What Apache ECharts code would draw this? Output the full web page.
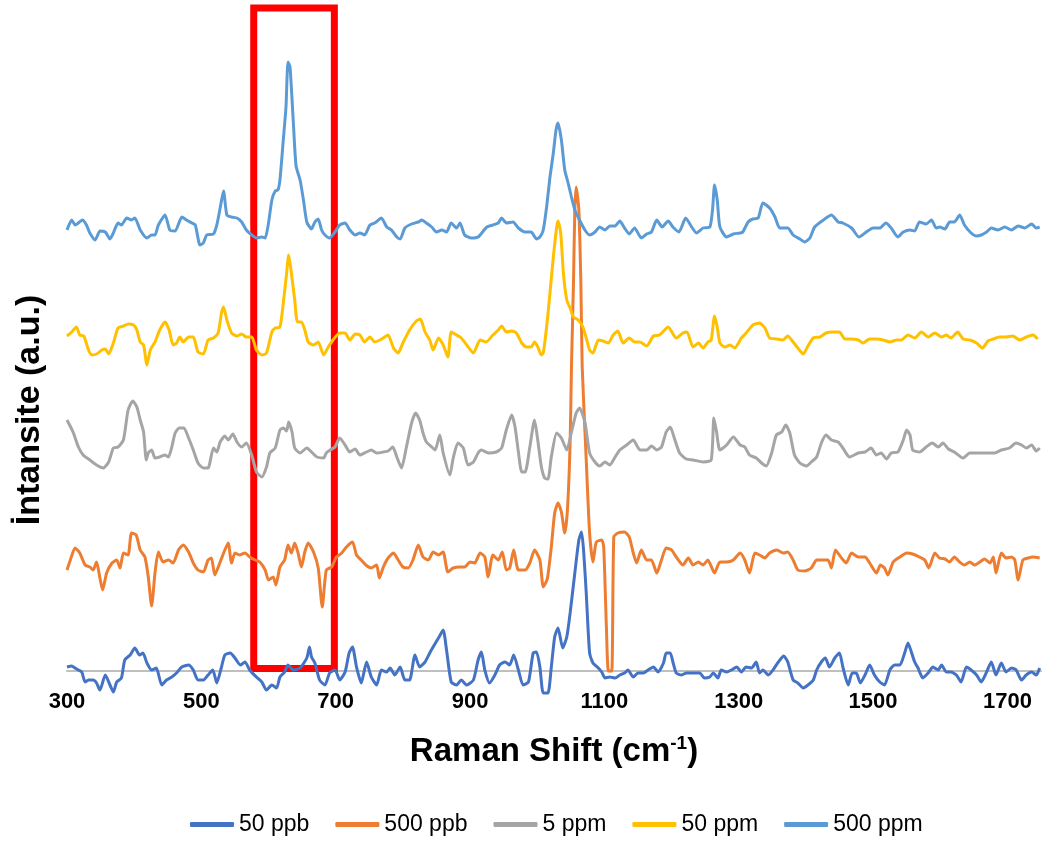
<!DOCTYPE html>
<html>
<head>
<meta charset="utf-8">
<script src="https://cdn.jsdelivr.net/npm/echarts@6/dist/echarts.min.js"></script>
<style>html,body{margin:0;padding:0;background:#fff}#c{width:1044px;height:843px}</style>
</head>
<body>
<div id="c"></div>
<script>
// Raman shift (cm-1) vs intensity (a.u., stacked offsets as in the original)
const seriesNames = ['50 ppb', '500 ppb', '5 ppm', '50 ppm', '500 ppm'];
const seriesColors = ['#4472C4', '#ED7D31', '#A5A5A5', '#FFC000', '#5B9BD5'];
const xTicks = [300, 500, 700, 900, 1100, 1300, 1500, 1700];
const highlightRange = [578, 698];

const ppb50 = [[300,4],[307,5],[312,3],[317,1],[322,-1],[327,-11],[332,-9],[339,-9],[344,-12],[349,-19],[357,-4],[364,-14],[369,-21],[374,-11],[381,-7],[386,11],[394,16],[401,23],[408,16],[413,18],[419,8],[426,1],[433,3],[441,-14],[448,-9],[456,-6],[463,-2],[471,4],[481,6],[488,1],[495,-9],[503,-9],[510,-4],[517,1],[523,-12],[530,4],[535,16],[543,18],[550,13],[558,6],[565,9],[572,1],[582,-6],[590,-11],[597,-19],[605,-14],[612,-17],[617,-6],[624,-1],[629,6],[637,1],[647,3],[657,13],[661,24],[664,14],[669,8],[676,-9],[684,-14],[691,-2],[699,1],[706,-9],[714,-1],[720,18],[725,24],[731,4],[738,-12],[746,9],[753,-6],[761,-14],[768,1],[776,-1],[781,3],[788,-4],[796,4],[803,-9],[810,-9],[818,16],[825,4],[833,9],[840,18],[845,24],[853,33],[860,41],[865,21],[872,-11],[880,-14],[887,-9],[895,-14],[905,-9],[912,11],[917,19],[922,1],[929,-12],[937,-4],[944,6],[952,9],[959,6],[965,16],[972,1],[979,-14],[987,-11],[994,18],[999,19],[1004,4],[1009,-22],[1016,-22],[1021,4],[1026,34],[1031,43],[1038,23],[1044,34],[1049,58],[1056,98],[1062,131],[1066,139],[1069,121],[1073,78],[1078,18],[1083,8],[1091,3],[1096,-1],[1101,-7],[1108,-6],[1116,-7],[1123,-4],[1130,-2],[1135,1],[1143,-6],[1150,-2],[1158,-2],[1165,1],[1173,4],[1180,-1],[1188,8],[1192,18],[1198,18],[1202,9],[1207,-2],[1215,-4],[1222,-2],[1232,-2],[1242,-2],[1249,-7],[1257,-6],[1262,-2],[1269,-7],[1274,1],[1282,-1],[1289,1],[1297,4],[1304,-1],[1311,4],[1319,3],[1326,9],[1331,-2],[1336,1],[1344,-4],[1351,1],[1359,9],[1367,15],[1373,9],[1381,-9],[1388,-12],[1396,-17],[1403,-14],[1411,-9],[1416,1],[1423,9],[1429,13],[1435,4],[1443,13],[1450,18],[1455,4],[1463,-14],[1469,-2],[1475,-2],[1481,-12],[1488,-4],[1495,6],[1502,-4],[1510,-11],[1517,-14],[1525,1],[1532,6],[1540,6],[1547,18],[1552,28],[1557,19],[1562,9],[1567,3],[1574,-7],[1582,-2],[1589,4],[1597,1],[1602,6],[1609,-1],[1616,-1],[1624,-4],[1631,-11],[1639,4],[1646,1],[1654,-4],[1661,-11],[1669,-1],[1676,9],[1683,-4],[1691,8],[1698,-1],[1706,3],[1713,1],[1721,-9],[1728,-4],[1736,-1],[1743,-4],[1748,3]];

const ppb500 = [[300,101],[305,111],[312,123],[319,118],[327,106],[334,104],[339,101],[344,109],[349,93],[353,81],[359,98],[367,108],[374,111],[379,103],[384,118],[391,116],[396,138],[403,136],[409,121],[416,114],[421,94],[426,65],[431,98],[436,119],[443,109],[451,111],[458,108],[466,121],[473,126],[481,119],[488,108],[495,101],[503,99],[510,111],[515,113],[520,96],[528,109],[535,121],[540,128],[545,108],[550,118],[557,116],[565,118],[572,114],[580,111],[587,109],[595,101],[600,91],[607,94],[611,86],[617,104],[624,111],[629,126],[634,118],[639,128],[644,118],[649,104],[654,119],[659,128],[667,119],[674,103],[680,64],[686,101],[694,104],[701,114],[709,118],[716,124],[725,129],[731,116],[738,111],[745,106],[753,103],[761,106],[765,93],[771,104],[778,113],[786,118],[793,111],[800,104],[808,103],[815,111],[823,126],[830,114],[838,111],[845,119],[853,116],[860,119],[867,99],[875,103],[885,104],[892,104],[900,109],[907,108],[915,118],[922,114],[927,94],[934,116],[942,111],[948,119],[954,101],[959,103],[965,121],[972,101],[982,101],[989,108],[996,121],[1004,111],[1009,84],[1015,92],[1021,124],[1026,158],[1031,168],[1036,159],[1041,138],[1045,161],[1049,228],[1051,304],[1054,388],[1056,461],[1058,484],[1062,461],[1065,388],[1067,304],[1073,211],[1078,138],[1083,109],[1088,129],[1096,131],[1099,124],[1103,44],[1106,0],[1111,0],[1114,134],[1120,138],[1130,139],[1137,134],[1143,118],[1148,108],[1155,121],[1163,111],[1170,111],[1178,98],[1185,111],[1192,123],[1200,121],[1207,114],[1217,106],[1225,113],[1232,106],[1240,109],[1247,106],[1254,111],[1264,98],[1272,109],[1282,109],[1292,111],[1302,118],[1309,111],[1316,98],[1324,118],[1331,116],[1339,113],[1346,118],[1357,121],[1366,118],[1373,119],[1381,111],[1388,101],[1398,100],[1408,103],[1416,111],[1426,111],[1433,111],[1438,103],[1444,121],[1453,113],[1460,108],[1468,118],[1478,114],[1488,114],[1495,108],[1505,98],[1511,106],[1517,103],[1522,96],[1530,109],[1540,114],[1550,118],[1559,117],[1569,114],[1577,111],[1583,103],[1592,118],[1599,113],[1607,112],[1614,109],[1621,114],[1629,109],[1636,106],[1644,109],[1651,106],[1659,109],[1666,112],[1674,108],[1679,114],[1683,98],[1691,118],[1698,113],[1706,114],[1711,111],[1716,91],[1723,111],[1731,113],[1738,114],[1748,113]];

const ppm5 = [[300,251],[309,239],[317,224],[324,216],[334,211],[344,206],[354,203],[362,209],[369,223],[376,224],[384,231],[391,261],[398,270],[404,264],[409,251],[414,239],[418,211],[421,218],[426,221],[431,213],[438,214],[446,216],[451,214],[456,224],[461,238],[467,243],[474,243],[481,233],[488,221],[495,208],[503,203],[510,203],[518,223],[523,219],[528,229],[535,235],[540,231],[547,237],[553,229],[560,224],[567,228],[575,216],[582,199],[590,194],[597,204],[602,218],[610,223],[617,241],[622,243],[627,240],[630,249],[635,239],[639,223],[647,218],[657,223],[664,219],[672,214],[682,213],[686,218],[692,221],[699,224],[706,233],[714,226],[721,219],[729,222],[736,216],[746,219],[753,221],[761,218],[771,219],[778,220],[785,224],[791,214],[798,203],[805,223],[813,248],[819,258],[825,251],[830,238],[835,229],[843,224],[848,221],[855,236],[860,218],[870,196],[875,213],[882,228],[890,223],[897,206],[905,209],[912,218],[917,221],[927,218],[939,219],[947,223],[954,241],[962,256],[967,244],[972,219],[977,199],[982,199],[989,224],[996,251],[1001,230],[1006,205],[1011,193],[1016,192],[1021,214],[1029,238],[1036,233],[1044,221],[1051,239],[1058,258],[1063,263],[1071,249],[1078,218],[1086,209],[1093,205],[1101,209],[1108,206],[1116,214],[1123,221],[1133,226],[1143,231],[1153,221],[1163,221],[1170,225],[1178,221],[1185,224],[1192,239],[1198,244],[1205,231],[1212,218],[1222,212],[1232,211],[1247,209],[1259,211],[1263,253],[1267,239],[1272,221],[1282,226],[1292,234],[1302,226],[1309,224],[1316,216],[1326,213],[1334,208],[1341,205],[1349,218],[1356,236],[1364,239],[1370,246],[1376,238],[1383,216],[1391,208],[1401,205],[1408,209],[1416,214],[1423,228],[1430,236],[1438,231],[1448,229],[1455,223],[1465,214],[1478,218],[1488,219],[1497,223],[1505,216],[1512,218],[1520,212],[1527,218],[1537,219],[1545,231],[1550,241],[1555,236],[1559,221],[1569,219],[1579,224],[1588,228],[1597,224],[1604,228],[1612,222],[1621,219],[1634,213],[1644,218],[1656,218],[1669,218],[1681,218],[1691,221],[1703,223],[1713,228],[1721,226],[1728,223],[1736,226],[1743,220],[1748,223]];

const ppm50 = [[300,335],[307,339],[314,344],[319,336],[325,335],[332,321],[337,316],[344,317],[352,321],[357,322],[362,317],[369,328],[376,343],[384,345],[391,347],[399,346],[404,341],[409,329],[414,326],[419,306],[424,321],[431,329],[438,341],[446,349],[452,341],[458,326],[463,328],[468,334],[473,329],[481,334],[488,334],[495,319],[503,317],[510,331],[518,333],[525,338],[530,358],[533,364],[538,351],[545,338],[553,335],[560,337],[567,334],[575,334],[582,321],[590,316],[597,318],[605,339],[610,343],[617,344],[622,368],[627,398],[630,416],[634,398],[639,371],[643,349],[649,349],[654,341],[659,329],[667,326],[674,329],[682,316],[689,324],[696,331],[706,338],[714,338],[721,331],[729,337],[736,336],[743,329],[751,334],[758,329],[766,331],[773,334],[778,336],[786,323],[793,318],[800,328],[810,341],[820,350],[826,352],[833,339],[840,331],[845,321],[853,333],[860,326],[867,314],[872,339],[880,336],[887,333],[895,326],[905,318],[915,331],[924,329],[934,336],[942,341],[947,345],[954,339],[962,340],[969,338],[977,328],[984,324],[991,324],[996,329],[1001,324],[1006,316],[1009,318],[1014,344],[1019,378],[1024,414],[1029,444],[1031,450],[1035,438],[1039,398],[1044,371],[1049,363],[1054,354],[1061,351],[1068,344],[1073,333],[1078,321],[1083,318],[1091,331],[1098,330],[1106,328],[1113,336],[1120,340],[1128,328],[1137,333],[1145,329],[1153,329],[1163,325],[1173,335],[1182,336],[1195,344],[1207,333],[1217,338],[1223,339],[1232,324],[1240,328],[1247,323],[1254,329],[1259,331],[1264,355],[1268,344],[1272,328],[1279,324],[1287,326],[1294,323],[1304,333],[1311,338],[1321,346],[1331,348],[1339,343],[1346,333],[1356,332],[1366,331],[1373,335],[1381,329],[1388,323],[1396,317],[1403,325],[1411,333],[1421,334],[1430,338],[1440,339],[1450,339],[1458,332],[1468,332],[1478,331],[1485,328],[1495,332],[1505,332],[1515,331],[1525,329],[1535,331],[1542,331],[1552,336],[1562,333],[1572,339],[1582,334],[1592,338],[1602,334],[1609,336],[1616,333],[1626,339],[1634,332],[1644,331],[1654,328],[1663,323],[1671,330],[1679,332],[1688,334],[1698,334],[1708,335],[1718,331],[1728,334],[1738,336],[1745,332]];

const ppm500 = [[300,441],[307,451],[312,446],[317,448],[323,451],[329,446],[334,438],[342,431],[349,440],[357,439],[364,432],[369,438],[376,448],[381,446],[389,453],[396,451],[401,453],[409,441],[419,433],[426,436],[431,436],[436,446],[446,456],[453,441],[461,440],[471,454],[478,451],[486,448],[491,446],[498,426],[503,428],[508,436],[518,437],[523,446],[528,463],[533,480],[538,456],[545,454],[553,453],[560,449],[567,441],[575,436],[582,433],[590,434],[595,433],[600,448],[605,471],[610,480],[614,481],[617,491],[622,531],[626,564],[629,609],[632,604],[637,548],[641,505],[647,491],[652,471],[657,449],[664,442],[669,449],[674,452],[679,441],[684,436],[691,433],[699,439],[706,446],[714,448],[721,441],[729,436],[736,438],[743,436],[751,446],[758,448],[768,453],[776,444],[783,441],[791,434],[796,432],[803,443],[813,447],[823,449],[828,451],[835,448],[843,444],[850,439],[858,441],[865,439],[872,448],[880,443],[885,448],[892,436],[902,433],[912,434],[925,444],[934,446],[942,448],[947,453],[954,448],[964,449],[972,443],[982,439],[991,439],[999,432],[1004,434],[1009,441],[1014,464],[1019,494],[1024,518],[1028,541],[1031,548],[1036,531],[1041,501],[1046,488],[1051,474],[1056,461],[1063,451],[1071,441],[1078,436],[1086,439],[1093,444],[1101,441],[1108,445],[1116,445],[1123,450],[1130,443],[1137,437],[1145,443],[1155,433],[1163,437],[1170,439],[1178,451],[1186,444],[1195,450],[1202,444],[1211,439],[1221,453],[1230,444],[1237,438],[1247,443],[1257,444],[1261,461],[1264,486],[1268,471],[1272,444],[1282,434],[1292,437],[1302,438],[1306,439],[1314,449],[1321,452],[1329,453],[1336,468],[1346,463],[1354,454],[1361,443],[1373,443],[1381,436],[1391,432],[1398,429],[1406,433],[1413,444],[1426,451],[1438,456],[1448,449],[1455,448],[1468,443],[1479,434],[1490,439],[1500,443],[1510,443],[1519,448],[1527,443],[1537,434],[1545,439],[1555,441],[1562,440],[1569,449],[1579,447],[1587,451],[1594,443],[1599,444],[1607,442],[1614,449],[1621,449],[1629,456],[1636,446],[1646,438],[1654,435],[1661,436],[1669,439],[1676,443],[1686,441],[1696,444],[1706,441],[1716,445],[1726,443],[1736,447],[1743,443],[1748,444]];

const allData = [ppb50, ppb500, ppm5, ppm50, ppm500];

const FONT = '"Liberation Sans", Arial, sans-serif';
const chart = echarts.init(document.getElementById('c'), null, {renderer: 'canvas'});
const lineSeries = seriesNames.map((n, i) => ({
  name: n,
  type: 'line',
  data: allData[i],
  showSymbol: false,
  symbol: 'none',
  smooth: 0.2,
  lineStyle: {width: 3, color: seriesColors[i]},
  itemStyle: {color: seriesColors[i]},
  z: 2 + i
}));
lineSeries.push({
  type: 'line',
  data: [],
  silent: true,
  z: 20,
  markArea: {
    silent: true,
    itemStyle: {color: 'rgba(0,0,0,0)', borderColor: '#FF0000', borderWidth: 7},
    data: [[{coord: [highlightRange[0], 2.5]}, {coord: [highlightRange[1], 663]}]]
  }
});

chart.setOption({
  animation: false,
  backgroundColor: '#ffffff',
  grid: {left: 67, right: 3, top: 1, bottom: 142, containLabel: false},
  xAxis: {
    type: 'value',
    min: 300, max: 1750, interval: 200,
    axisLine: {onZero: true, lineStyle: {color: '#BFBFBF', width: 2}},
    axisTick: {show: false},
    splitLine: {show: false},
    axisLabel: {
      margin: -10,
      fontFamily: FONT,
      fontWeight: 'bold', fontSize: 22, color: '#000',
      formatter: v => (xTicks.indexOf(v) >= 0 ? String(v) : '')
    },
    name: 'Raman Shift (cm{sup|-1})',
    nameLocation: 'middle',
    nameGap: 33,
    nameTextStyle: {
      fontFamily: FONT, fontWeight: 'bold', fontSize: 33, color: '#000',
      rich: {sup: {fontSize: 19, fontWeight: 'bold', verticalAlign: 'top', padding: [0,0,16,0], fontFamily: FONT}}
    }
  },
  yAxis: {
    type: 'value',
    min: -30, max: 670,
    axisLine: {show: false}, axisTick: {show: false}, axisLabel: {show: false}, splitLine: {show: false}
  },
  graphic: [{
    type: 'text',
    x: 30, y: 410,
    rotation: Math.PI / 2,
    style: {text: 'İntansite (a.u.)', font: 'bold 34px ' + FONT, fill: '#000', align: 'center', verticalAlign: 'middle'}
  }],
  legend: {
    data: seriesNames,
    left: 185, top: 808,
    itemWidth: 44, itemHeight: 5, itemGap: 26,
    icon: 'roundRect',
    textStyle: {fontFamily: FONT, fontSize: 23, color: '#000'}
  },
  series: lineSeries
});
</script>
</body>
</html>
